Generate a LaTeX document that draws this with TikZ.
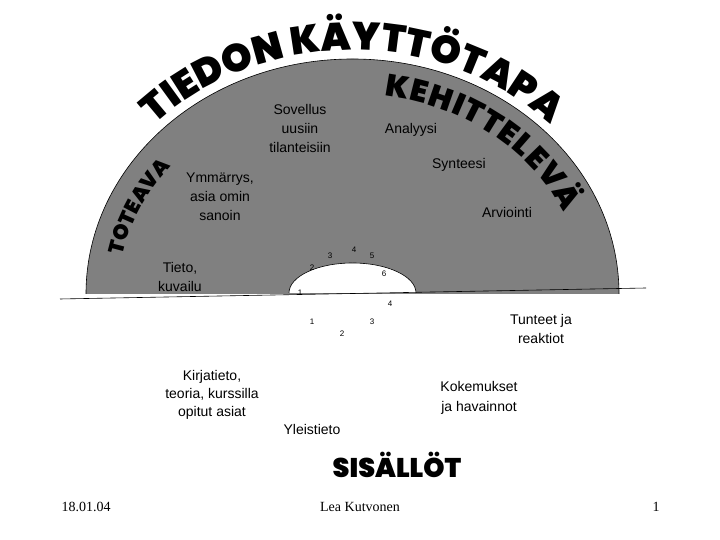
\documentclass[tikz,border=0pt]{standalone}
\usepackage{fontspec}
\setmainfont{Liberation Sans}
\newfontfamily\footserif{Liberation Serif}
\newfontfamily\heavy{Poppins}[UprightFont=* Black]
\usetikzlibrary{decorations.text}
\begin{document}
\begin{tikzpicture}[x=1pt,y=1pt,
  lbl/.style={font=\fontsize{14}{19}\selectfont, align=center, inner sep=0pt},
  num/.style={font=\fontsize{8}{8}\selectfont, inner sep=0pt},
  foot/.style={font=\footserif\fontsize{14}{14}\selectfont, inner sep=0pt}]
\fill[white] (0,0) rectangle (720,540);
\useasboundingbox (0,0) rectangle (720,540);
% grey half ellipse
\fill[gray] (86,246) arc[start angle=180,end angle=0,x radius=266.5pt,y radius=235pt] -- cycle;
\draw[line width=0.6pt] (86,246) arc[start angle=180,end angle=0,x radius=266.5pt,y radius=235pt];
% inner white half ellipse
\fill[white] (289,247) arc[start angle=180,end angle=0,x radius=63.5pt,y radius=30pt] -- cycle;
\draw[line width=0.6pt] (289,247) arc[start angle=180,end angle=0,x radius=63.5pt,y radius=30pt];
% base line
\coordinate (bl) at (60,241);
\coordinate (br) at (646,252);
\draw[line width=0.6pt] (bl) -- (br);
% curved titles
\path[shift={(352.5,246)}, decorate, decoration={text along path,
  text={|\heavy\fontsize{39}{39}\selectfont|TIEDON KÄYTTÖTAPA}, text align={fit to path}}]
  (136:275pt and 244pt) arc[start angle=136,end angle=44,x radius=275pt,y radius=244pt];
\path[shift={(352.5,246)}, decorate, decoration={text along path,
  text={|\heavy\fontsize{31}{31}\selectfont|KEHITTELEVÄ}, text align={fit to path}}]
  (82:231pt and 200pt) arc[start angle=82,end angle=24,x radius=231pt,y radius=200pt];
\path[shift={(352.5,246)}, decorate, decoration={text along path,
  text={|\heavy\fontsize{21}{21}\selectfont|TOTEAVA}, text align={fit to path}}]
  (169:234pt and 203pt) arc[start angle=169,end angle=141,x radius=234pt,y radius=203pt];
% labels in grey
\node[lbl] (sov) at (300,411) {Sovellus\\uusiin\\tilanteisiin};
\node[lbl] (ana) at (411,410) {Analyysi};
\node[lbl] (syn) at (459,375) {Synteesi};
\node[lbl] (arv) at (507,327) {Arviointi};
\node[lbl] (ymm) at (220,343) {Ymmärrys,\\asia omin\\sanoin};
\node[lbl] (tie) at (180,263) {Tieto,\\kuvailu};
% numbers
\node[num] (u1) at (300,247) {1};
\node[num] (u2) at (312,272) {2};
\node[num] (u3) at (330,284) {3};
\node[num] (u4) at (354,290) {4};
\node[num] (u5) at (372,284) {5};
\node[num] (u6) at (384,266) {6};
\node[num] (d4) at (390,236) {4};
\node[num] (d3) at (372,218) {3};
\node[num] (d1) at (312,218) {1};
\node[num] (d2) at (342,206) {2};
% lower labels
\node[lbl] (tun) at (541,211) {Tunteet ja\\reaktiot};
\node[lbl, font=\fontsize{14}{18}\selectfont] (kir) at (212,145) {Kirjatieto,\\teoria, kurssilla\\opitut asiat};
\node[lbl, font=\fontsize{14}{20}\selectfont] (kok) at (479,142) {Kokemukset\\ja havainnot};
\node[lbl] (yle) at (312,111) {Yleistieto};
\node[inner sep=0pt, font=\heavy\fontsize{27}{27}\selectfont] (sis) at (397,75) {SISÄLLÖT};
% footer
\node[foot] (date) at (86,33) {18.01.04};
\node[foot] (auth) at (360,33) {Lea Kutvonen};
\node[foot] (page) at (656,33) {1};
\end{tikzpicture}
\end{document}
